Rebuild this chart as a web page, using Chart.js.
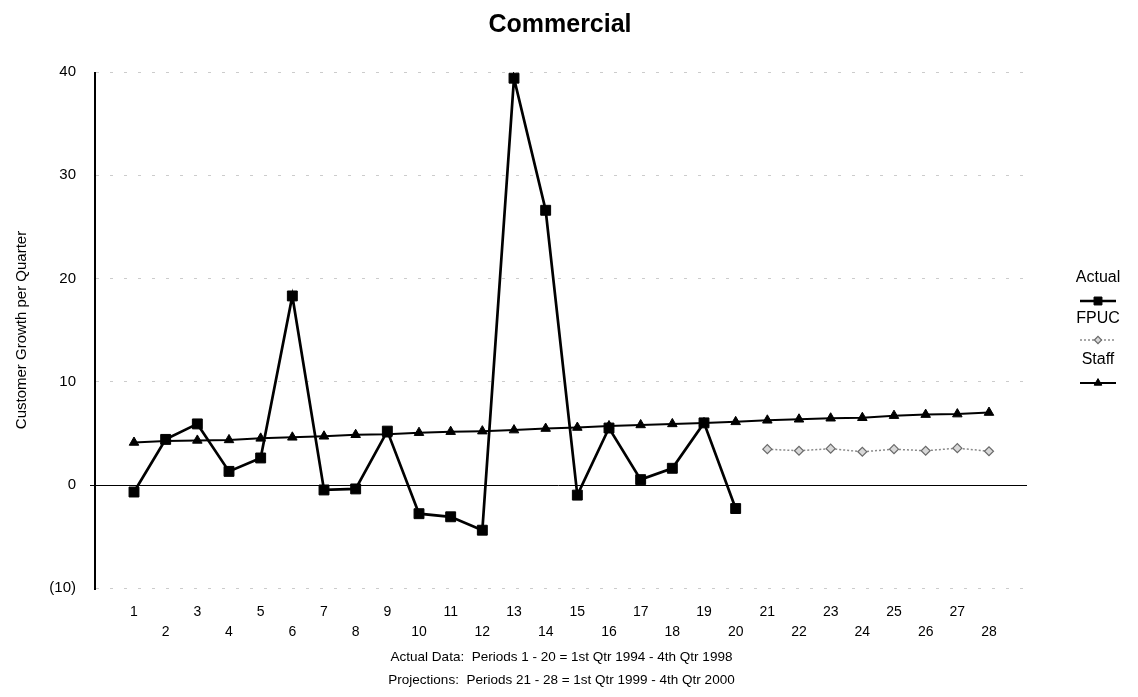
<!DOCTYPE html>
<html>
<head>
<meta charset="utf-8">
<title>Commercial</title>
<script src="https://cdn.jsdelivr.net/npm/chart.js@4/dist/chart.umd.min.js"></script>
<style>
  html, body { margin: 0; padding: 0; background: #ffffff; }
  canvas { display: block; }
</style>
</head>
<body>
<canvas id="chart" width="1138" height="697"></canvas>
<script>
// Quarterly periods (1-20 actual, 21-28 projected)
const periods = [1, 2, 3, 4, 5, 6, 7, 8, 9, 10, 11, 12, 13, 14, 15, 16, 17, 18, 19, 20, 21, 22, 23, 24, 25, 26, 27, 28];
const periodLabels = ['1', '2', '3', '4', '5', '6', '7', '8', '9', '10', '11', '12', '13', '14',
                      '15', '16', '17', '18', '19', '20', '21', '22', '23', '24', '25', '26', '27', '28'];

// Customer growth per quarter
const actualValues = [-0.7, 4.4, 5.9, 1.3, 2.6, 18.3, -0.5, -0.4, 5.2, -2.8, -3.1, -4.4, 39.4, 26.6,
                      -1.0, 5.5, 0.5, 1.6, 6.0, -2.3];
const fpucPeriods = [21, 22, 23, 24, 25, 26, 27, 28];
const fpucValues = [3.45, 3.3, 3.5, 3.2, 3.45, 3.3, 3.55, 3.25];
const staffValues = [4.1, 4.25, 4.3, 4.35, 4.5, 4.6, 4.7, 4.85, 4.9, 5.05, 5.15, 5.2, 5.3, 5.45,
                     5.55, 5.7, 5.8, 5.9, 6.0, 6.1, 6.25, 6.35, 6.45, 6.5, 6.7, 6.8, 6.85, 7.0];

const yTickValues = [-10, 0, 10, 20, 30, 40];
const footerLines = ['Actual Data:  Periods 1 - 20 = 1st Qtr 1994 - 4th Qtr 1998',
                     'Projections:  Periods 21 - 28 = 1st Qtr 1999 - 4th Qtr 2000'];

const FONT = "'Liberation Sans', Arial, Helvetica, sans-serif";

const toPoints = (xs, ys) => ys.map((v, i) => ({ x: xs[i], y: v }));

const datasets = [
  {
    label: 'Actual',
    data: toPoints(periods, actualValues),
    borderColor: '#000000',
    backgroundColor: '#000000',
    borderWidth: 2.7,
    pointStyle: 'rect',
    pointRadius: 7,
    pointBorderWidth: 1,
    tension: 0
  },
  {
    label: 'FPUC',
    data: toPoints(fpucPeriods, fpucValues),
    borderColor: '#8a8a8a',
    backgroundColor: '#d8d8d8',
    borderWidth: 1.5,
    borderDash: [2, 2],
    pointStyle: 'rectRot',
    pointRadius: 4.5,
    pointBorderColor: '#6a6a6a',
    pointBorderWidth: 1.2,
    tension: 0
  },
  {
    label: 'Staff',
    data: toPoints(periods, staffValues),
    borderColor: '#000000',
    backgroundColor: '#000000',
    borderWidth: 2,
    pointStyle: 'triangle',
    pointRadius: 5.5,
    pointBorderWidth: 1,
    tension: 0
  }
];

// Title, axis lines and the stacked legend on the right
const decorations = {
  id: 'decorations',
  beforeDatasetsDraw(chart) {
    const { ctx, chartArea, scales } = chart;
    const y0 = Math.round(scales.y.getPixelForValue(0)) + 0.5;
    ctx.save();
    ctx.strokeStyle = '#000000';
    ctx.lineWidth = 1;
    ctx.beginPath();
    ctx.moveTo(chartArea.left - 6, y0);
    ctx.lineTo(chartArea.right, y0);
    ctx.stroke();
    ctx.lineWidth = 2;
    ctx.beginPath();
    ctx.moveTo(chartArea.left - 1, chartArea.top);
    ctx.lineTo(chartArea.left - 1, chartArea.bottom + 2);
    ctx.stroke();
    ctx.restore();
  },
  afterDraw(chart) {
    const { ctx } = chart;
    ctx.save();
    ctx.fillStyle = '#000000';
    ctx.textAlign = 'center';
    ctx.textBaseline = 'middle';
    ctx.font = 'bold 25px ' + FONT;
    ctx.fillText('Commercial', 560, 25);

    const lx = 1098;
    const rows = [
      { textY: 278, markY: 301 },
      { textY: 319, markY: 340 },
      { textY: 360, markY: 383 }
    ];
    ctx.font = '16px ' + FONT;
    chart.data.datasets.forEach((ds, i) => {
      const r = rows[i];
      ctx.fillStyle = '#000000';
      ctx.fillText(ds.label, lx, r.textY);
      ctx.save();
      ctx.strokeStyle = ds.borderColor;
      ctx.lineWidth = ds.borderWidth;
      ctx.setLineDash(ds.borderDash || []);
      ctx.beginPath();
      ctx.moveTo(lx - 18, r.markY);
      ctx.lineTo(lx + 18, r.markY);
      ctx.stroke();
      ctx.setLineDash([]);
      ctx.fillStyle = ds.backgroundColor;
      ctx.strokeStyle = ds.pointBorderColor || ds.borderColor;
      ctx.lineWidth = ds.pointBorderWidth;
      Chart.helpers.drawPoint(ctx, {
        pointStyle: ds.pointStyle,
        radius: ds.pointRadius * 0.8,
        rotation: 0,
        borderWidth: ds.pointBorderWidth
      }, lx, r.markY);
      ctx.restore();
    });
    ctx.restore();
  }
};

new Chart(document.getElementById('chart'), {
  type: 'line',
  data: { datasets },
  plugins: [decorations],
  options: {
    responsive: false,
    animation: false,
    events: [],
    layout: { padding: { top: 72, right: 111, bottom: 0, left: 0 } },
    plugins: {
      legend: { display: false },
      title: { display: false },
      tooltip: { enabled: false }
    },
    scales: {
      x: {
        type: 'linear',
        min: -0.2,
        max: 29.2,
        afterBuildTicks(axis) {
          axis.ticks = periods.map(v => ({ value: v }));
        },
        afterFit(axis) { axis.height = 109; },
        grid: { display: false, drawTicks: false },
        border: { display: false },
        ticks: {
          autoSkip: false,
          maxRotation: 0,
          minRotation: 0,
          padding: 14,
          color: '#000000',
          font: { family: FONT, size: 14, lineHeight: '20px' },
          callback(value) {
            const idx = periods.indexOf(value);
            const label = periodLabels[idx];
            return value % 2 === 0 ? ['', label] : [label];
          }
        },
        title: {
          display: true,
          text: footerLines,
          color: '#000000',
          font: { family: FONT, size: 13.5, lineHeight: '23px' },
          padding: { top: 0, bottom: 5 }
        }
      },
      y: {
        type: 'linear',
        min: -10,
        max: 40,
        afterBuildTicks(axis) {
          axis.ticks = yTickValues.map(v => ({ value: v }));
        },
        afterFit(axis) { axis.width = 96; },
        grid: {
          drawTicks: false,
          lineWidth: 1,
          color: (c) => (c.tick && c.tick.value === 0) ? 'rgba(0,0,0,0)' : '#cccccc'
        },
        border: { display: false, dash: [3, 11] },
        ticks: {
          padding: 20,
          color: '#000000',
          font: { family: FONT, size: 15 },
          callback(value) {
            return value < 0 ? '(' + Math.abs(value) + ')' : String(value);
          }
        },
        title: {
          display: true,
          text: 'Customer Growth per Quarter',
          color: '#000000',
          font: { family: FONT, size: 15 },
          padding: { top: 13, bottom: 0 }
        }
      }
    }
  }
});
</script>
</body>
</html>
